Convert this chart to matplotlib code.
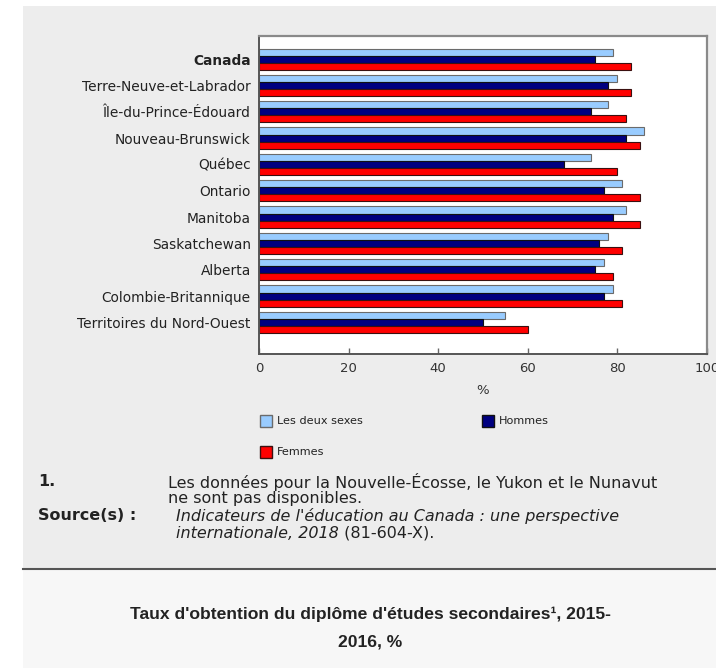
import numpy as np
import matplotlib
matplotlib.use("Agg")
import matplotlib.pyplot as plt
from matplotlib.patches import Rectangle
from matplotlib.lines import Line2D

provinces = ["Canada", "Terre-Neuve-et-Labrador", "Île-du-Prince-Édouard",
             "Nouveau-Brunswick", "Québec", "Ontario", "Manitoba",
             "Saskatchewan", "Alberta", "Colombie-Britannique",
             "Territoires du Nord-Ouest"]
deux_sexes = [79, 80, 78, 86, 74, 81, 82, 78, 77, 79, 55]
hommes = [75, 78, 74, 82, 68, 77, 79, 76, 75, 77, 50]
femmes = [83, 83, 82, 85, 80, 85, 85, 81, 79, 81, 60]
series_names = ["Les deux sexes", "Hommes", "Femmes"]
xticks = [0, 20, 40, 60, 80, 100]

colors = ["#99ccff", "#000080", "#ff0000"]
edges = ["#6b6b6b", "#111111", "#3a1010"]

W, H = 716, 668
fig = plt.figure(figsize=(W / 100, H / 100), dpi=100)
fig.patch.set_facecolor("white")

def fx(px):
    return px / W

def fy(py):
    return 1 - py / H

# background panels
fig.patches.append(Rectangle((fx(23), fy(569)), fx(716 - 23), (569 - 6) / H,
                             transform=fig.transFigure, facecolor="#ededed",
                             edgecolor="none", zorder=-5))
fig.patches.append(Rectangle((fx(23), 0), fx(716 - 23), fy(569),
                             transform=fig.transFigure, facecolor="#f7f7f7",
                             edgecolor="none", zorder=-5))
fig.lines.append(Line2D([fx(23), 1], [fy(569), fy(569)], transform=fig.transFigure,
                        color="#555555", linewidth=1.5, zorder=-4))

ax = fig.add_axes([fx(259), fy(354), fx(707 - 259), (354 - 36) / H])
ax.set_zorder(2)
ax.set_facecolor("white")

y = np.arange(len(provinces))
h = 0.27
for k, vals in enumerate([deux_sexes, hommes, femmes]):
    ax.barh(y + (k - 1) * h, vals, height=h, color=colors[k],
            edgecolor=edges[k], linewidth=0.8, label=series_names[k])

ax.set_xlim(0, 100)
ax.set_ylim(11.2, -0.88)
ax.set_yticks(y)
ax.set_yticklabels(provinces, fontsize=9.9, color="#222222")
ax.get_yticklabels()[0].set_fontweight("bold")
ax.tick_params(axis="y", length=0, pad=6)
ax.set_xticks(xticks)
ax.set_xticklabels([str(t) for t in xticks], fontsize=9.5, color="#333333")
ax.tick_params(axis="x", direction="in", length=4, width=1, color="#666666", pad=6)
ax.set_xlabel("%", fontsize=9.5, color="#333333", labelpad=6)

for side in ["top", "right"]:
    ax.spines[side].set_color("#8a8a8a")
    ax.spines[side].set_linewidth(1.6)
for side in ["left", "bottom"]:
    ax.spines[side].set_color("#555555")
    ax.spines[side].set_linewidth(1.4)

# legend
leg_pos = [(260, 421), (482, 421), (260, 452)]
for k, (lx, ly) in enumerate(leg_pos):
    fig.patches.append(Rectangle((fx(lx), fy(ly + 6)), fx(12), 12 / H,
                                 transform=fig.transFigure, facecolor=colors[k],
                                 edgecolor=edges[k], linewidth=1.0))
    fig.text(fx(lx + 17), fy(ly), series_names[k], fontsize=8.1,
             color="#222222", va="center", ha="left")

# notes
fs = 11.5
fig.text(fx(38), fy(482), "1.", fontsize=fs, fontweight="bold", color="#222222",
         va="center")
fig.text(fx(168), fy(482), "Les données pour la Nouvelle-Écosse, le Yukon et le Nunavut",
         fontsize=fs, color="#222222", va="center")
fig.text(fx(168), fy(499), "ne sont pas disponibles.", fontsize=fs,
         color="#222222", va="center")
fig.text(fx(38), fy(516), "Source(s) :", fontsize=fs, fontweight="bold",
         color="#222222", va="center")
fig.text(fx(176), fy(516), "Indicateurs de l'éducation au Canada : une perspective",
         fontsize=fs, style="italic", color="#222222", va="center")
t = fig.text(fx(176), fy(533), "internationale, 2018", fontsize=fs,
             style="italic", color="#222222", va="center")
fig.text(0, 0, " (81-604-X).", fontsize=fs, color="#222222")
fig.canvas.draw()
bb = t.get_window_extent()
fig.texts[-1].set_position((bb.x1 / W, fy(533)))
fig.texts[-1].set_va("center")

# title
fig.text(fx(370), fy(614), "Taux d'obtention du diplôme d'études secondaires¹, 2015-",
         fontsize=12.6, fontweight="bold", family="Liberation Sans",
         color="#222222", ha="center", va="center")
fig.text(fx(370), fy(642), "2016, %", fontsize=12.6, fontweight="bold",
         family="Liberation Sans", color="#222222", ha="center", va="center")

fig.savefig("out.png", dpi=100)
